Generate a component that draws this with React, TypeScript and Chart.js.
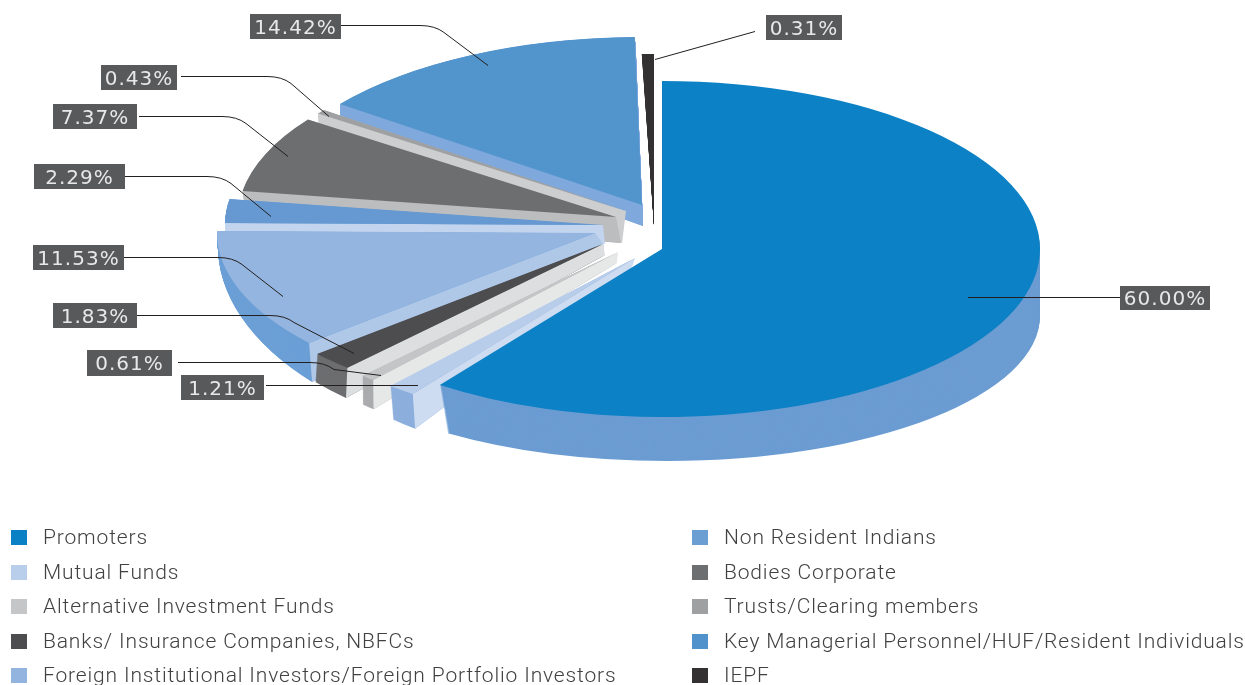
import React, { useEffect, useRef } from "react";
import { Chart, registerables } from "chart.js";

Chart.register(...registerables);

const categories = [
  "Promoters",
  "Mutual Funds",
  "Alternative Investment Funds",
  "Banks/ Insurance Companies, NBFCs",
  "Foreign Institutional Investors/Foreign Portfolio Investors",
  "Non Resident Indians",
  "Bodies Corporate",
  "Trusts/Clearing members",
  "Key Managerial Personnel/HUF/Resident Individuals",
  "IEPF",
];
const shares = [60.0, 1.21, 0.61, 1.83, 11.53, 2.29, 7.37, 0.43, 14.42, 0.31];

// styles
const topColors = ["#0c81c5", "#b8cde9", "#c3c5c7", "#4d4d4f", "#94b5df", "#6699d1", "#6d6e70", "#9fa0a2", "#5294cc", "#333132"];
const rimColors = ["#6b9cd2", "#8dafdd", "#abacae", "#6d6e70", "#6b9fd6", "#6b9fd6", "#bbbdbf", "#cdced0", "#7fa9dc", "#333132"];
const cutColors = ["#6b9cd2", "#cedcf1", "#e6e8e8", "#dcdee0", "#afc8e8", "#c2d4ee", "#bbbdbf", "#cdced0", "#7fa9dc", "#333132"];
const legendColors = ["#0a80c5", "#b8ceea", "#c5c6c8", "#4d4d4f", "#92b4df", "#6b9fd4", "#6d6e70", "#9fa0a2", "#4f92cc", "#333132"];

// exploded placement of each slice: top face centre, then extruded bottom centre and radii
const RX = 378, RY = 168;
const faceX = [662, 635, 618, 603, 595, 603, 616, 626, 642, 654];
const faceY = [249, 258, 252, 244, 233, 225, 217, 211, 205, 222];
const baseX = [667, 632, 617, 605, 604, 605, 621, 622, 643, 654];
const baseY = [316, 267, 263, 255, 246, 244, 243, 243, 226, 225];
const baseRx = [373, 369, 376, 383, 386, 380, 380, 372, 379, 625];
const baseRy = [145, 200, 192, 194, 208, 200, 195, 195, 180, 171];

// callouts: box left, top, width, height; line start x, y, knee x; line end x, y
const boxL = [1120, 181, 87, 53, 33, 34, 53, 101, 250, 766];
const boxT = [286, 375, 350, 303, 245, 164, 104, 65, 14, 15];
const boxW = [90, 83, 85, 84, 91, 91, 84, 76, 91, 76];
const boxH = [24, 25, 26, 25, 25, 25, 25, 25, 25, 25];
const lineX0 = [1120, 266, 178, 137, 124, 125, 139, 181, 341, 755];
const lineY0 = [297, 385, 362, 315, 257, 176, 116, 76, 25, 31];
const kneeX = [0, 0, 310, 270, 218, 207, 222, 267, 420, 0];
const lineX1 = [968, 418, 381, 354, 283, 271, 288, 329, 488, 655];
const lineY1 = [297, 385, 375, 353, 296, 216, 156, 116, 65, 59];

const legendRowY = [538, 573, 607, 642, 676];
const legendSwatchX = [11, 692];
const legendTextX = [43, 724];

const pie3dPlugin = {
  id: "pie3d",
  beforeDatasetsDraw(chart: any) {
    const ctx: CanvasRenderingContext2D = chart.ctx;
    const arcs = chart.getDatasetMeta(0).data;
    for (let i = arcs.length - 1; i >= 0; i--) {
      const el = arcs[i];
      const R = el.outerRadius;
      const start = el.startAngle;
      const end = el.endAngle;
      // outer wall: stacked wedges from the bottom to the top face
      const steps = 48;
      ctx.fillStyle = rimColors[i];
      for (let s = steps; s >= 1; s--) {
        const t = s / steps;
        const cx = faceX[i] + (baseX[i] - faceX[i]) * t;
        const cy = faceY[i] + (baseY[i] - faceY[i]) * t;
        const rx = RX + (baseRx[i] - RX) * t;
        const ry = RY + (baseRy[i] - RY) * t;
        ctx.save();
        ctx.translate(cx, cy);
        ctx.scale(rx / R, ry / R);
        ctx.beginPath();
        ctx.moveTo(0, 0);
        ctx.arc(0, 0, R, start, end);
        ctx.closePath();
        ctx.fill();
        ctx.restore();
      }
      // cut face along the leading edge
      if (i > 0) {
        ctx.fillStyle = cutColors[i];
        ctx.beginPath();
        ctx.moveTo(faceX[i], faceY[i]);
        ctx.lineTo(faceX[i] + RX * Math.cos(start), faceY[i] + RY * Math.sin(start));
        ctx.lineTo(baseX[i] + baseRx[i] * Math.cos(start), baseY[i] + baseRy[i] * Math.sin(start));
        ctx.lineTo(baseX[i], baseY[i]);
        ctx.closePath();
        ctx.fill();
      }
      // top face: the library's own arc element, squashed and moved
      ctx.save();
      ctx.translate(faceX[i], faceY[i]);
      ctx.scale(RX / R, RY / R);
      ctx.translate(-el.x, -el.y);
      el.draw(ctx);
      ctx.restore();
    }
    return false;
  },
  afterDraw(chart: any) {
    const ctx: any = chart.ctx;
    const values = chart.data.datasets[0].data;
    ctx.save();
    values.forEach((v: number, i: number) => {
      ctx.fillStyle = "#58595b";
      ctx.fillRect(boxL[i], boxT[i], boxW[i], boxH[i]);
      ctx.fillStyle = "#e8e8e8";
      ctx.font = "20px 'DejaVu Sans'";
      ctx.letterSpacing = "1px";
      ctx.textAlign = "center";
      ctx.textBaseline = "middle";
      ctx.fillText(v.toFixed(2) + "%", boxL[i] + boxW[i] / 2, boxT[i] + boxH[i] / 2 + 2);
      ctx.strokeStyle = "#231f20";
      ctx.lineWidth = 1;
      ctx.beginPath();
      const y0 = lineY0[i] + 0.5;
      ctx.moveTo(lineX0[i], y0);
      if (kneeX[i]) {
        ctx.lineTo(kneeX[i], y0);
        ctx.quadraticCurveTo(kneeX[i] + 15, y0, kneeX[i] + 24, y0 + 7);
      }
      ctx.lineTo(lineX1[i], lineY1[i] + 0.5);
      ctx.stroke();
    });
    chart.data.labels.forEach((label: string, i: number) => {
      const col = i < 5 ? 0 : 1;
      const y = legendRowY[i % 5];
      ctx.fillStyle = legendColors[i];
      ctx.fillRect(legendSwatchX[col], y - 8, 16, 15);
      ctx.fillStyle = "#414042";
      ctx.font = "300 21px Roboto";
      ctx.letterSpacing = "0.85px";
      ctx.textAlign = "left";
      ctx.textBaseline = "middle";
      ctx.fillText(label, legendTextX[col], y + 1);
    });
    ctx.restore();
  },
};

export default function App() {
  const ref = useRef<HTMLCanvasElement>(null);
  useEffect(() => {
    const chart = new Chart(ref.current as HTMLCanvasElement, {
      type: "pie",
      data: {
        labels: categories,
        datasets: [{ data: shares, backgroundColor: topColors, borderWidth: 0 }],
      },
      options: {
        animation: false,
        responsive: false,
        plugins: { legend: { display: false }, tooltip: { enabled: false } },
      },
      plugins: [pie3dPlugin],
    } as any);
    return () => chart.destroy();
  }, []);
  return (
    <div style={{ position: "fixed", left: 0, top: 0, width: 1245, height: 685, background: "#fff", overflow: "hidden" }}>
      <canvas ref={ref} width={1245} height={685} style={{ display: "block" }} />
    </div>
  );
}
